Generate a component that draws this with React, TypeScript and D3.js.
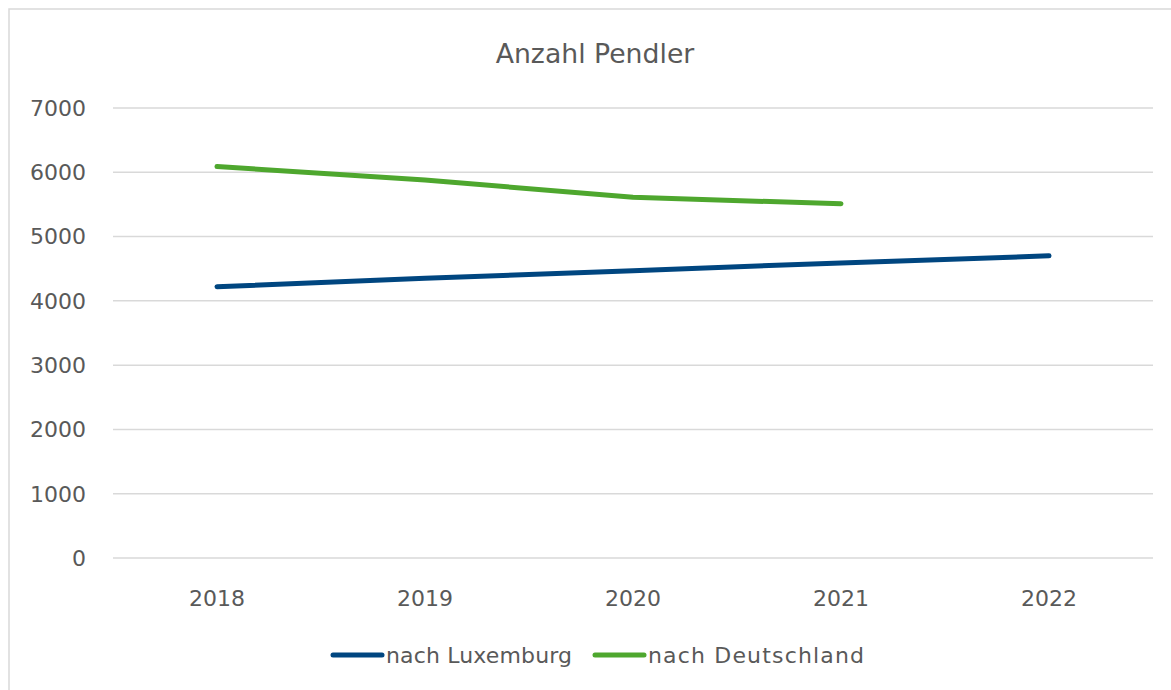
import React from "react";
import * as d3 from "d3";

const years = ["2018", "2019", "2020", "2021", "2022"];
const luxemburg = [4220, 4350, 4470, 4590, 4700];
const deutschland = [6090, 5880, 5610, 5510];
const yTicks = [0, 1000, 2000, 3000, 4000, 5000, 6000, 7000];
const seriesNames = ["nach Luxemburg", "nach Deutschland"];
const colors = ["#004680", "#4EA72E"];

const W = 1171;
const H = 690;
const FONT = "'DejaVu Sans', 'Noto Sans', sans-serif";
const TXT = "#595959";

export default function App() {
  const x = d3.scaleBand().domain(years).range([113, 1153]);
  const y = d3.scaleLinear().domain([0, 7000]).range([558, 108]);
  const cx = (d: string) => (x(d) ?? 0) + x.bandwidth() / 2;
  const line = d3
    .line<number>()
    .x((_, i) => cx(years[i]))
    .y((d) => y(d));
  const series = [luxemburg, deutschland];

  return (
    <svg
      width={W}
      height={H}
      style={{ position: "absolute", left: 0, top: 0, background: "#fff" }}
      fontFamily={FONT}
    >
      <rect x={9} y={9} width={W + 10} height={H + 10} fill="#fff" stroke="#d9d9d9" strokeWidth={1.5} />
      <text x={595} y={63} textAnchor="middle" fontSize={26.7} fill={TXT}>
        Anzahl Pendler
      </text>
      {yTicks.map((t) => (
        <g key={t}>
          <line x1={113} x2={1153} y1={y(t)} y2={y(t)} stroke="#d9d9d9" strokeWidth={1.5} />
          <text x={86} y={y(t)} dy="0.36em" textAnchor="end" fontSize={22} fill={TXT}>
            {t}
          </text>
        </g>
      ))}
      {years.map((yr) => (
        <text key={yr} x={cx(yr)} y={598} dy="0.36em" textAnchor="middle" fontSize={22} fill={TXT}>
          {yr}
        </text>
      ))}
      {series.map((s, i) => (
        <path
          key={i}
          d={line(s) ?? ""}
          fill="none"
          stroke={colors[i]}
          strokeWidth={5}
          strokeLinecap="round"
          strokeLinejoin="round"
        />
      ))}
      {seriesNames.map((n, i) => {
        const lx = [331, 593][i];
        const tl = [186, 216][i];
        return (
          <g key={n}>
            <line x1={lx + 2} x2={lx + 51} y1={655} y2={655} stroke={colors[i]} strokeWidth={5} strokeLinecap="round" />
            <text x={lx + 55} y={655} dy="0.36em" fontSize={22} fill={TXT} textLength={tl} lengthAdjust="spacing">
              {n}
            </text>
          </g>
        );
      })}
    </svg>
  );
}
